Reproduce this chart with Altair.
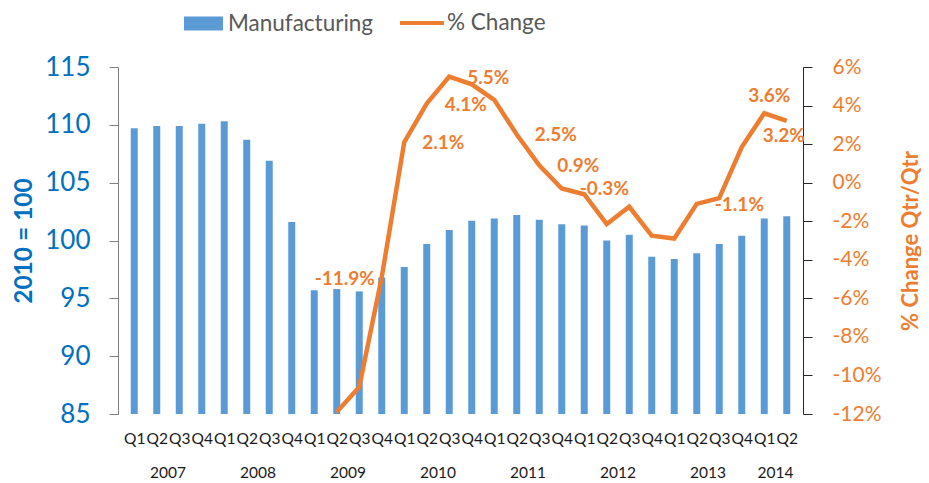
import altair as alt
import pandas as pd

# ---------------- data ----------------
quarter_names = ["Q1", "Q2", "Q3", "Q4"] * 7 + ["Q1", "Q2"]
year_of_quarter = ([2007] * 4 + [2008] * 4 + [2009] * 4 + [2010] * 4 +
                   [2011] * 4 + [2012] * 4 + [2013] * 4 + [2014] * 2)
manufacturing = [109.7, 109.9, 109.9, 110.1, 110.3, 108.7, 106.9, 101.6,
                 95.7, 95.8, 95.6, 96.8, 97.7, 99.7, 100.9, 101.7,
                 101.9, 102.2, 101.8, 101.4, 101.3, 100.0, 100.5, 98.6,
                 98.4, 98.9, 99.7, 100.4, 101.9, 102.1]
pct_change = [None] * 9 + [-11.9, -10.6, -4.9, 2.1, 4.1, 5.5, 5.1, 4.3,
                           2.5, 0.9, -0.3, -0.6, -2.15, -1.25, -2.75, -2.9,
                           -1.1, -0.8, 1.85, 3.6, 3.2]
index_base = 85
labels_right = [12, 13, 14, 17, 18, 19, 25]   # label beside the point
label_above = [28]
label_below = [29]
label_trough = [9]

W, H = 685, 347
BLUE_BAR = "#5B9BD5"
BLUE_TXT = "#0070C0"
ORANGE = "#ED7D31"
FONT = "Lato"

df = pd.DataFrame({
    "idx": list(range(len(manufacturing))),
    "quarter": quarter_names,
    "year": year_of_quarter,
    "mfg": manufacturing,
    "pct": pct_change,
    "s1": "Manufacturing",
    "s2": "% Change",
})
df["label"] = df["pct"].map(lambda v: "" if pd.isna(v) else f"{v:.1f}%")
year_df = df.groupby("year", as_index=False)["idx"].mean()

x_enc = alt.X(
    "idx:Q",
    scale=alt.Scale(domain=[-0.5, len(manufacturing) - 0.5], nice=False, zero=False),
    axis=alt.Axis(
        values=list(range(len(manufacturing))),
        labelExpr="'Q' + (datum.value % 4 + 1)",
        title=None, domain=False, ticks=False, tickSize=0, grid=False,
        labelPadding=24, labelBaseline="middle", labelFont=FONT,
        labelFontSize=15.5, labelColor="#1a1a1a", labelFlush=False,
        labelOverlap=False,
    ),
)

pct_scale = alt.Scale(domain=[-12, 6], nice=False, zero=False)

bars = alt.Chart(df).mark_bar(size=7).encode(
    x=x_enc,
    y=alt.Y(
        "mfg:Q",
        scale=alt.Scale(domain=[85, 115], nice=False, zero=False),
        axis=alt.Axis(
            orient="left", values=list(range(85, 116, 5)), grid=False,
            tickSize=9, tickColor="#7f7f7f", domainColor="#7f7f7f",
            labelPadding=19, labelFont=FONT, labelFontSize=26,
            labelColor=BLUE_TXT,
            title="2010 = 100", titleFont=FONT, titleFontSize=24.5,
            titleFontWeight="bold", titleColor=BLUE_TXT, titleAngle=270,
            titleX=-94, titleY=H / 2, titleAlign="center",
            titleBaseline="middle",
        ),
    ),
    y2=alt.datum(index_base),
    color=alt.Color(
        "s1:N",
        scale=alt.Scale(domain=["Manufacturing"], range=[BLUE_BAR]),
        legend=alt.Legend(
            orient="none", legendX=66, legendY=-63, title=None,
            direction="horizontal", padding=0,
            symbolType="M-1,-0.36L1,-0.36L1,0.36L-1,0.36Z",
            symbolSize=1521, symbolStrokeWidth=0, symbolOpacity=1,
            labelFont=FONT, labelFontSize=22.5, labelColor="#595959",
            labelOffset=5,
        ),
    ),
)

line = alt.Chart(df).mark_line(strokeWidth=4.5).encode(
    x=x_enc,
    y=alt.Y(
        "pct:Q",
        scale=pct_scale,
        axis=alt.Axis(
            orient="right", values=list(range(-12, 7, 2)), grid=False,
            labelExpr="datum.value + '%'",
            tickSize=9, tickColor="#262626", domainColor="#262626",
            labelPadding=20, labelFont=FONT, labelFontSize=21,
            labelColor=ORANGE,
            title="% Change Qtr/Qtr", titleFont=FONT, titleFontSize=22,
            titleFontWeight="bold", titleColor=ORANGE, titleAngle=270,
            titleX=107, titleY=H / 2, titleAlign="center",
            titleBaseline="middle",
        ),
    ),
    stroke=alt.Stroke(
        "s2:N",
        scale=alt.Scale(domain=["% Change"], range=[ORANGE]),
        legend=alt.Legend(
            orient="none", legendX=280, legendY=-68, title=None,
            direction="horizontal", padding=0,
            symbolType="stroke", symbolSize=1936, symbolStrokeWidth=4,
            labelFont=FONT, labelFontSize=22.5, labelColor="#595959",
            labelOffset=1,
        ),
    ),
)


def label_layer(indices, **mark_kw):
    return alt.Chart(df).transform_filter(
        alt.FieldOneOfPredicate(field="idx", oneOf=indices)
    ).mark_text(font=FONT, fontSize=19, fontWeight="bold", color=ORANGE,
                baseline="middle", **mark_kw).encode(
        x=x_enc,
        y=alt.Y("pct:Q", scale=pct_scale, axis=None),
        text="label:N",
    )


lab_right = label_layer(labels_right, align="left", dx=18, dy=1)
lab_above = label_layer(label_above, align="center", dx=5, dy=-17)
lab_below = label_layer(label_below, align="center", dx=-3, dy=15)
lab_trough = label_layer(label_trough, align="center", dx=8, dy=-133)

year_text = alt.Chart(year_df).mark_text(
    font=FONT, fontSize=15.5, color="#1a1a1a", baseline="middle", align="center"
).encode(
    x=x_enc,
    y=alt.value(H + 59),
    text="year:N",
)

chart = alt.layer(
    bars, line, lab_right, lab_above, lab_below, lab_trough, year_text
).resolve_scale(
    y="independent"
).properties(
    width=W, height=H,
    autosize=alt.AutoSizeParams(type="none"),
    padding={"left": 110, "top": 59, "right": 118, "bottom": 66},
).configure_view(stroke=None)

chart.save("out.html", embed_options={"renderer": "svg", "actions": False})
